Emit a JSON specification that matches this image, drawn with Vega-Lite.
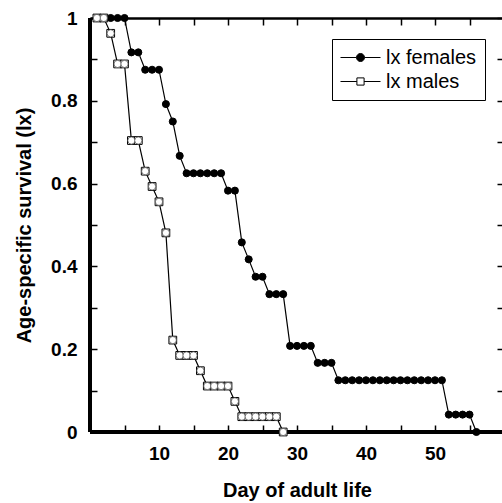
{
  "$schema": "https://vega.github.io/schema/vega-lite/v6.json",
  "autosize": "none",
  "width": 414,
  "height": 414,
  "padding": {"left": 90, "top": 18, "right": 0, "bottom": 71},
  "background": "white",
  "config": {
    "view": {"stroke": null},
    "font": "Liberation Sans",
    "axis": {"grid": false, "domainColor": "black", "tickColor": "black", "labelColor": "black", "titleColor": "black"}
  },
  "data": {
    "values": [
      {"sex": "lx females", "day": 1, "lx": 1},
      {"sex": "lx females", "day": 2, "lx": 1},
      {"sex": "lx females", "day": 3, "lx": 1},
      {"sex": "lx females", "day": 4, "lx": 1},
      {"sex": "lx females", "day": 5, "lx": 1},
      {"sex": "lx females", "day": 6, "lx": 0.917},
      {"sex": "lx females", "day": 7, "lx": 0.917},
      {"sex": "lx females", "day": 8, "lx": 0.875},
      {"sex": "lx females", "day": 9, "lx": 0.875},
      {"sex": "lx females", "day": 10, "lx": 0.875},
      {"sex": "lx females", "day": 11, "lx": 0.792},
      {"sex": "lx females", "day": 12, "lx": 0.75},
      {"sex": "lx females", "day": 13, "lx": 0.667},
      {"sex": "lx females", "day": 14, "lx": 0.625},
      {"sex": "lx females", "day": 15, "lx": 0.625},
      {"sex": "lx females", "day": 16, "lx": 0.625},
      {"sex": "lx females", "day": 17, "lx": 0.625},
      {"sex": "lx females", "day": 18, "lx": 0.625},
      {"sex": "lx females", "day": 19, "lx": 0.625},
      {"sex": "lx females", "day": 20, "lx": 0.583},
      {"sex": "lx females", "day": 21, "lx": 0.583},
      {"sex": "lx females", "day": 22, "lx": 0.458},
      {"sex": "lx females", "day": 23, "lx": 0.417},
      {"sex": "lx females", "day": 24, "lx": 0.375},
      {"sex": "lx females", "day": 25, "lx": 0.375},
      {"sex": "lx females", "day": 26, "lx": 0.333},
      {"sex": "lx females", "day": 27, "lx": 0.333},
      {"sex": "lx females", "day": 28, "lx": 0.333},
      {"sex": "lx females", "day": 29, "lx": 0.208},
      {"sex": "lx females", "day": 30, "lx": 0.208},
      {"sex": "lx females", "day": 31, "lx": 0.208},
      {"sex": "lx females", "day": 32, "lx": 0.208},
      {"sex": "lx females", "day": 33, "lx": 0.167},
      {"sex": "lx females", "day": 34, "lx": 0.167},
      {"sex": "lx females", "day": 35, "lx": 0.167},
      {"sex": "lx females", "day": 36, "lx": 0.125},
      {"sex": "lx females", "day": 37, "lx": 0.125},
      {"sex": "lx females", "day": 38, "lx": 0.125},
      {"sex": "lx females", "day": 39, "lx": 0.125},
      {"sex": "lx females", "day": 40, "lx": 0.125},
      {"sex": "lx females", "day": 41, "lx": 0.125},
      {"sex": "lx females", "day": 42, "lx": 0.125},
      {"sex": "lx females", "day": 43, "lx": 0.125},
      {"sex": "lx females", "day": 44, "lx": 0.125},
      {"sex": "lx females", "day": 45, "lx": 0.125},
      {"sex": "lx females", "day": 46, "lx": 0.125},
      {"sex": "lx females", "day": 47, "lx": 0.125},
      {"sex": "lx females", "day": 48, "lx": 0.125},
      {"sex": "lx females", "day": 49, "lx": 0.125},
      {"sex": "lx females", "day": 50, "lx": 0.125},
      {"sex": "lx females", "day": 51, "lx": 0.125},
      {"sex": "lx females", "day": 52, "lx": 0.042},
      {"sex": "lx females", "day": 53, "lx": 0.042},
      {"sex": "lx females", "day": 54, "lx": 0.042},
      {"sex": "lx females", "day": 55, "lx": 0.042},
      {"sex": "lx females", "day": 56, "lx": 0},
      {"sex": "lx males", "day": 1, "lx": 1},
      {"sex": "lx males", "day": 2, "lx": 1},
      {"sex": "lx males", "day": 3, "lx": 0.963},
      {"sex": "lx males", "day": 4, "lx": 0.889},
      {"sex": "lx males", "day": 5, "lx": 0.889},
      {"sex": "lx males", "day": 6, "lx": 0.704},
      {"sex": "lx males", "day": 7, "lx": 0.704},
      {"sex": "lx males", "day": 8, "lx": 0.63},
      {"sex": "lx males", "day": 9, "lx": 0.593},
      {"sex": "lx males", "day": 10, "lx": 0.556},
      {"sex": "lx males", "day": 11, "lx": 0.481},
      {"sex": "lx males", "day": 12, "lx": 0.222},
      {"sex": "lx males", "day": 13, "lx": 0.185},
      {"sex": "lx males", "day": 14, "lx": 0.185},
      {"sex": "lx males", "day": 15, "lx": 0.185},
      {"sex": "lx males", "day": 16, "lx": 0.148},
      {"sex": "lx males", "day": 17, "lx": 0.111},
      {"sex": "lx males", "day": 18, "lx": 0.111},
      {"sex": "lx males", "day": 19, "lx": 0.111},
      {"sex": "lx males", "day": 20, "lx": 0.111},
      {"sex": "lx males", "day": 21, "lx": 0.074},
      {"sex": "lx males", "day": 22, "lx": 0.037},
      {"sex": "lx males", "day": 23, "lx": 0.037},
      {"sex": "lx males", "day": 24, "lx": 0.037},
      {"sex": "lx males", "day": 25, "lx": 0.037},
      {"sex": "lx males", "day": 26, "lx": 0.037},
      {"sex": "lx males", "day": 27, "lx": 0.037},
      {"sex": "lx males", "day": 28, "lx": 0}
    ]
  },
  "resolve": {"axis": {"x": "independent", "y": "independent"}},
  "layer": [
    {
      "mark": {"type": "rule", "color": "black", "strokeWidth": 2.5},
      "encoding": {
        "x": {"datum": 0, "type": "quantitative", "axis": null},
        "y": {"datum": 0, "type": "quantitative", "axis": null},
        "y2": {"datum": 1}
      }
    },
    {
      "mark": {"type": "rule", "color": "black", "strokeWidth": 2.5},
      "encoding": {
        "x": {"datum": 0, "type": "quantitative", "axis": null},
        "x2": {"datum": 60},
        "y": {"datum": 0, "type": "quantitative", "axis": null}
      }
    },
    {
      "mark": {"type": "line", "color": "black", "strokeWidth": 1.2},
      "encoding": {
        "x": {
          "field": "day", "type": "quantitative",
          "scale": {"domain": [0, 60], "nice": false, "zero": false},
          "axis": {
            "title": "Day of adult life",
            "values": [10, 20, 30, 40, 50],
            "ticks": false, "domain": false,
            "labelFontSize": 19, "labelFontWeight": "bold", "labelPadding": 12,
            "titleFontSize": 20, "titleFontWeight": "bold", "titlePadding": 17,
            "labelFlush": false, "labelOverlap": false
          }
        },
        "y": {
          "field": "lx", "type": "quantitative",
          "scale": {"domain": [0, 1], "nice": false},
          "axis": {
            "title": "Age-specific survival (lx)",
            "values": [0, 0.2, 0.4, 0.6, 0.8, 1],
            "format": "~g",
            "ticks": false, "domain": false,
            "labelFontSize": 19, "labelFontWeight": "bold", "labelPadding": 13,
            "titleFontSize": 20, "titleFontWeight": "bold", "titlePadding": 16,
            "labelFlush": false, "labelOverlap": false
          }
        },
        "detail": {"field": "sex"}
      }
    },
    {
      "transform": [{"filter": "datum.sex == 'lx females'"}],
      "mark": {"type": "point", "shape": "circle", "filled": true, "fill": "black", "stroke": "black", "strokeWidth": 1, "size": 50, "opacity": 1},
      "encoding": {
        "x": {
          "field": "day", "type": "quantitative",
          "axis": {"orient": "top", "title": null, "labels": false, "values": [5, 10, 15, 20, 25, 30, 35, 40, 45, 50, 55], "tickSize": -7, "tickWidth": 1.5, "domainWidth": 2.5}
        },
        "y": {
          "field": "lx", "type": "quantitative",
          "axis": {"orient": "right", "title": null, "labels": false, "values": [0, 0.1, 0.2, 0.3, 0.4, 0.5, 0.6, 0.7, 0.8, 0.9, 1], "tickSize": -7, "tickWidth": 1.5, "domainWidth": 2.5}
        }
      }
    },
    {
      "transform": [{"filter": "datum.sex == 'lx males'"}],
      "mark": {"type": "point", "shape": "square", "filled": true, "fill": "white", "stroke": "black", "strokeWidth": 1, "size": 60, "opacity": 1},
      "encoding": {
        "x": {
          "field": "day", "type": "quantitative",
          "axis": {"orient": "bottom", "title": null, "labels": false, "values": [5, 10, 15, 20, 25, 30, 35, 40, 45, 50, 55], "tickSize": -7, "tickWidth": 1.5, "domain": false}
        },
        "y": {
          "field": "lx", "type": "quantitative",
          "axis": {"orient": "right", "offset": -414, "title": null, "labels": false, "values": [0, 0.1, 0.2, 0.3, 0.4, 0.5, 0.6, 0.7, 0.8, 0.9, 1], "tickSize": 7, "tickWidth": 1.5, "domain": false}
        }
      }
    },
    {
      "transform": [{"filter": "datum.sex == 'lx males'"}],
      "mark": {"type": "point", "shape": "circle", "filled": true, "fill": "white", "stroke": "#444444", "strokeWidth": 0.7, "size": 52, "opacity": 1},
      "encoding": {
        "x": {"field": "day", "type": "quantitative", "axis": null},
        "y": {"field": "lx", "type": "quantitative", "axis": null}
      }
    },
    {
      "transform": [{"filter": "false"}],
      "mark": {"type": "point", "filled": false, "strokeWidth": 1, "opacity": 1},
      "encoding": {
        "x": {"field": "day", "type": "quantitative", "axis": null},
        "y": {"field": "lx", "type": "quantitative", "axis": null},
        "shape": {
          "field": "sex", "type": "nominal",
          "scale": {
            "domain": ["lx females", "lx males"],
            "range": ["M-2,0H-0.4M0.4,0H2M-0.4,0A0.4,0.4 0 1,0 0.4,0A0.4,0.4 0 1,0 -0.4,0Z", "M-2,0H-0.36M0.36,0H2M-0.36,-0.36H0.36V0.36H-0.36Z"]
          },
          "legend": {
            "title": null, "orient": "none", "legendX": 242, "legendY": 21,
            "padding": 8, "strokeColor": "black", "fillColor": "white",
            "labelFontSize": 20, "labelFont": "Liberation Sans", "labelColor": "black",
            "symbolSize": 400, "symbolStrokeWidth": 1, "symbolOpacity": 1, "symbolOffset": 10,
            "labelOffset": 15, "rowPadding": 3
          }
        },
        "fill": {
          "field": "sex", "type": "nominal",
          "scale": {"domain": ["lx females", "lx males"], "range": ["black", "white"]},
          "legend": {
            "title": null, "orient": "none", "legendX": 242, "legendY": 21,
            "padding": 8, "strokeColor": "black", "fillColor": "white",
            "labelFontSize": 20, "labelFont": "Liberation Sans", "labelColor": "black",
            "symbolSize": 400, "symbolStrokeWidth": 1, "symbolOpacity": 1, "symbolOffset": 10,
            "labelOffset": 15, "rowPadding": 3
          }
        },
        "stroke": {
          "field": "sex", "type": "nominal",
          "scale": {"domain": ["lx females", "lx males"], "range": ["black", "black"]},
          "legend": {
            "title": null, "orient": "none", "legendX": 242, "legendY": 21,
            "padding": 8, "strokeColor": "black", "fillColor": "white",
            "labelFontSize": 20, "labelFont": "Liberation Sans", "labelColor": "black",
            "symbolSize": 400, "symbolStrokeWidth": 1, "symbolOpacity": 1, "symbolOffset": 10,
            "labelOffset": 15, "rowPadding": 3
          }
        }
      }
    }
  ]
}
